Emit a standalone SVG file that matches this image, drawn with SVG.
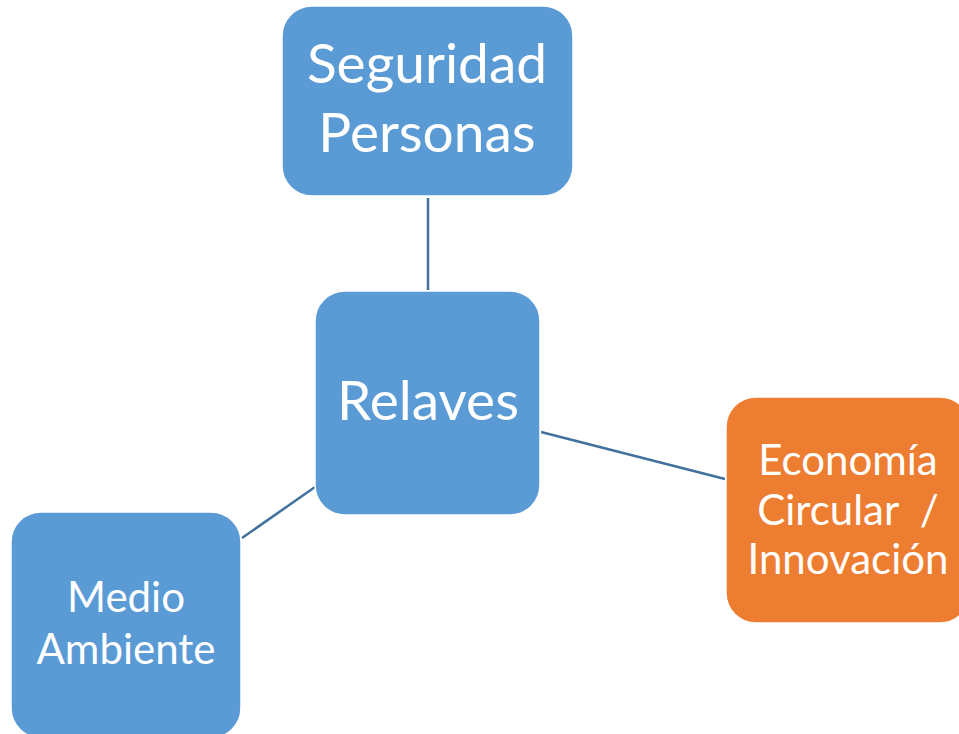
<svg xmlns="http://www.w3.org/2000/svg" width="959" height="734" viewBox="0 0 959 734">
<style>
.blue{fill:#5B9BD5;stroke:#FFFFFF;stroke-width:1.5}
.orange{fill:#ED7D31;stroke:#FFFFFF;stroke-width:1.5}
.lbl{fill:#FFFFFF;font-family:Lato,"Liberation Sans",sans-serif;text-anchor:middle}
.big{font-size:55px}
.small{font-size:42px}
.conn{stroke:#41719C;stroke-width:2.5;fill:none}
</style>
<rect width="959" height="734" fill="#FFFFFF"/>
<g id="connectors">
<line class="conn" x1="428" y1="198" x2="428" y2="290"/>
<line class="conn" x1="541" y1="432" x2="725" y2="479"/>
<line class="conn" x1="315" y1="487" x2="242" y2="538"/>
</g>
<g id="seguridad">
<rect class="blue" x="282" y="6" width="291" height="190" rx="30"/>
<text class="lbl big" x="427" y="83">Seguridad</text>
<text class="lbl big" x="427" y="152">Personas</text>
</g>
<g id="relaves">
<rect class="blue" x="315" y="291" width="225" height="224" rx="30"/>
<text class="lbl big" x="428" y="420">Relaves</text>
</g>
<g id="economia">
<rect class="orange" x="726" y="397" width="244" height="226" rx="30"/>
<text class="lbl small" x="848" y="475">Economía</text>
<text class="lbl small" x="848" y="525">Circular&#160; /</text>
<text class="lbl small" x="848" y="574">Innovación</text>
</g>
<g id="medio">
<rect class="blue" x="11" y="512" width="230" height="226" rx="30"/>
<text class="lbl small" x="126" y="612">Medio</text>
<text class="lbl small" x="126" y="664">Ambiente</text>
</g>
</svg>
